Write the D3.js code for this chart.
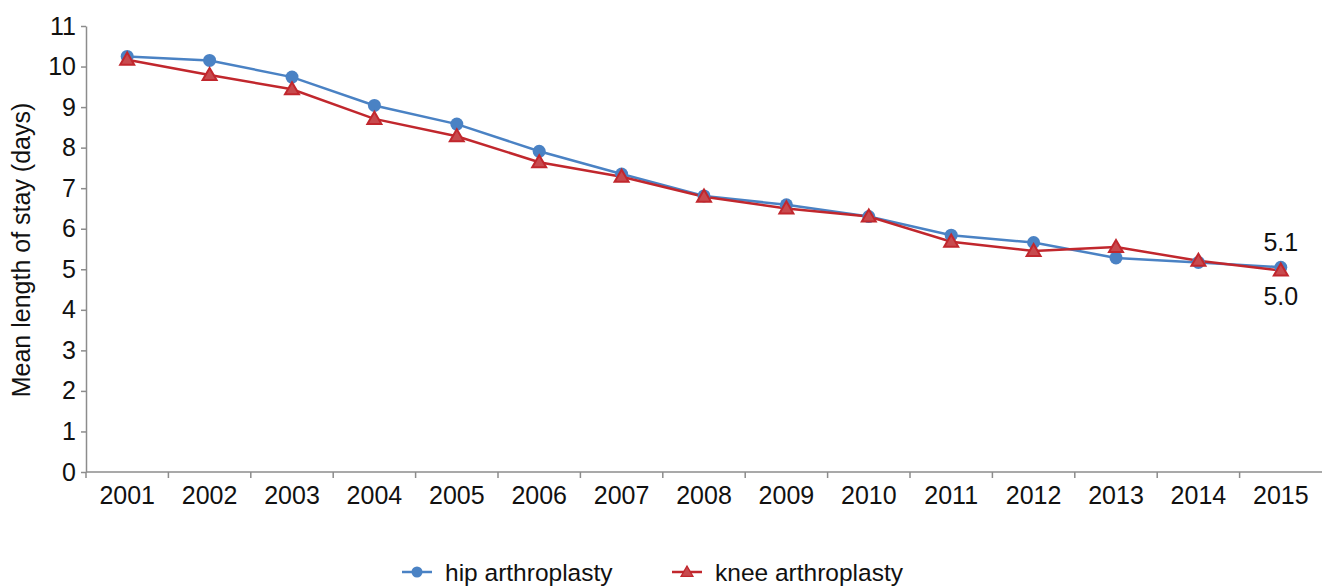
<!DOCTYPE html>
<html>
<head>
<meta charset="utf-8">
<script src="https://cdn.jsdelivr.net/npm/d3@7"></script>
<style>
  body { margin: 0; background: #fff; }
  text { font-family: "Liberation Sans", Arial, Helvetica, sans-serif; fill: #111; }
</style>
</head>
<body>
<div id="chart"></div>
<script>
// data
let years = ['2001','2002','2003','2004','2005','2006','2007','2008','2009','2010','2011','2012','2013','2014','2015'];
let hipValues = [10.25, 10.15, 9.74, 9.04, 8.58, 7.91, 7.35, 6.81, 6.59, 6.30, 5.84, 5.66, 5.28, 5.17, 5.05];
let kneeValues = [10.17, 9.79, 9.44, 8.71, 8.28, 7.64, 7.28, 6.79, 6.50, 6.30, 5.68, 5.45, 5.55, 5.21, 4.97];
let yTicks = [0,1,2,3,4,5,6,7,8,9,10,11];
let seriesNames = ['hip arthroplasty', 'knee arthroplasty'];
let endLabels = ['5.1', '5.0'];

let width = 1322, height = 586;
let plotLeft = 86, plotRight = 1322, plotTop = 26, plotBottom = 472;
let blue = '#4a82c4', red = '#c1272d';
let fontSize = '25px';

let svg = d3.select('#chart')
    .append('svg')
    .attr('width', width)
    .attr('height', height);

let x = d3.scaleBand().domain(years).range([plotLeft, plotRight]);
let y = d3.scaleLinear().domain([0, 11]).range([plotBottom, plotTop]);

// y axis
let yAxis = svg.append('g')
    .attr('transform', 'translate(' + plotLeft + ',0)')
    .call(d3.axisLeft(y).tickValues(yTicks).tickSize(5).tickPadding(5).tickSizeOuter(0));
yAxis.select('.domain').attr('stroke', '#8c8c8c').attr('stroke-width', 1.5);
yAxis.selectAll('.tick line').attr('stroke', '#8c8c8c').attr('stroke-width', 1.5);
yAxis.selectAll('text').style('font-size', fontSize).attr('fill', '#111')
    .style('font-family', '"Liberation Sans", Arial, sans-serif');

// x axis: ticks sit between categories
let xAxis = svg.append('g')
    .attr('transform', 'translate(0,' + plotBottom + ')');
xAxis.append('line')
    .attr('x1', plotLeft).attr('x2', plotRight)
    .attr('stroke', '#8c8c8c').attr('stroke-width', 1.5);
xAxis.selectAll('.tk')
    .data(years)
  .enter().append('line')
    .attr('x1', function(d){ return x(d); })
    .attr('x2', function(d){ return x(d); })
    .attr('y1', 0).attr('y2', 6)
    .attr('stroke', '#8c8c8c').attr('stroke-width', 1.5);
xAxis.selectAll('.yl')
    .data(years)
  .enter().append('text')
    .attr('x', function(d){ return x(d) + x.bandwidth()/2; })
    .attr('y', 32)
    .style('text-anchor', 'middle')
    .style('font-size', fontSize)
    .text(function(d){ return d; });

// y axis title
svg.append('text')
    .attr('transform', 'translate(30,250) rotate(-90)')
    .style('text-anchor', 'middle')
    .style('font-size', fontSize)
    .text('Mean length of stay (days)');

let line = d3.line()
    .x(function(d,i){ return x(years[i]) + x.bandwidth()/2; })
    .y(function(d){ return y(d); });

svg.append('path')
    .datum(hipValues)
    .attr('d', line)
    .attr('fill', 'none')
    .attr('stroke', blue)
    .attr('stroke-width', 2.5);

svg.append('path')
    .datum(kneeValues)
    .attr('d', line)
    .attr('fill', 'none')
    .attr('stroke', red)
    .attr('stroke-width', 2.5);

let tri = d3.symbol().type(d3.symbolTriangle).size(85);

svg.selectAll('.hip')
    .data(hipValues)
  .enter().append('circle')
    .attr('cx', function(d,i){ return x(years[i]) + x.bandwidth()/2; })
    .attr('cy', function(d){ return y(d); })
    .attr('r', 6.5)
    .attr('fill', blue);

svg.selectAll('.knee')
    .data(kneeValues)
  .enter().append('path')
    .attr('d', tri)
    .attr('transform', function(d,i){
      return 'translate(' + (x(years[i]) + x.bandwidth()/2) + ',' + (y(d) + 1) + ')';
    })
    .attr('fill', '#c84a4e')
    .attr('stroke', red)
    .attr('stroke-width', 2);

// labels at last point
let lastX = x(years[years.length-1]) + x.bandwidth()/2;
svg.append('text')
    .attr('x', lastX).attr('y', y(hipValues[hipValues.length-1]) - 16)
    .style('text-anchor', 'middle')
    .style('font-size', fontSize)
    .text(endLabels[0]);
svg.append('text')
    .attr('x', lastX).attr('y', y(kneeValues[kneeValues.length-1]) + 35)
    .style('text-anchor', 'middle')
    .style('font-size', fontSize)
    .text(endLabels[1]);

// legend
let legend = svg.append('g').attr('transform', 'translate(0,572)');
let legX = [402, 672];
let legColors = [blue, red];
seriesNames.forEach(function(name, i){
  legend.append('line')
      .attr('x1', legX[i]).attr('x2', legX[i] + 30)
      .attr('stroke', legColors[i]).attr('stroke-width', 2.5);
  if (i == 0) {
    legend.append('circle').attr('cx', legX[i] + 15).attr('r', 5.5).attr('fill', blue);
  } else {
    legend.append('path').attr('d', tri)
        .attr('transform', 'translate(' + (legX[i] + 15) + ',1) scale(0.85)')
        .attr('fill', '#c84a4e').attr('stroke', red).attr('stroke-width', 1.5);
  }
  legend.append('text')
      .attr('x', legX[i] + 43)
      .attr('y', 8.5)
      .style('font-size', '24.5px')
      .text(name);
});
</script>
</body>
</html>
